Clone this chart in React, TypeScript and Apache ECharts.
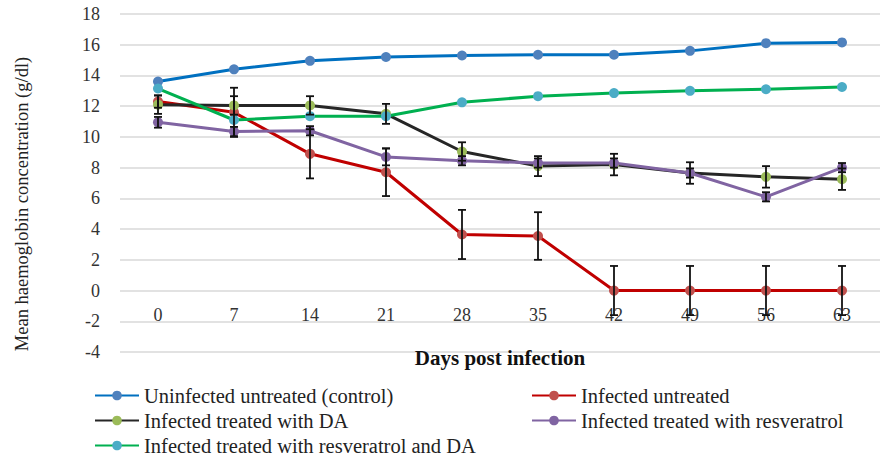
import React, { useEffect, useRef } from "react";
import * as echarts from "echarts";

const days = ["0", "7", "14", "21", "28", "35", "42", "49", "56", "63"];
const yTicks = { min: -4, max: 18, interval: 2 };

const control = [13.6, 14.4, 14.95, 15.2, 15.3, 15.35, 15.35, 15.6, 16.1, 16.15];
const infected = [12.3, 11.6, 8.9, 7.7, 3.65, 3.55, 0, 0, 0, 0];
const treatedDA = [12.1, 12.05, 12.05, 11.5, 9.05, 8.1, 8.2, 7.65, 7.4, 7.25];
const treatedResv = [10.95, 10.35, 10.4, 8.7, 8.45, 8.3, 8.3, 7.65, 6.1, 8.0];
const treatedBoth = [13.15, 11.1, 11.35, 11.35, 12.25, 12.65, 12.85, 13.0, 13.1, 13.25];

const errInfected = [0.4, 1.6, 1.6, 1.55, 1.6, 1.55, 1.6, 1.6, 1.6, 1.6];
const errDA = [0.6, 0.6, 0.6, 0.65, 0.6, 0.65, 0.7, 0.7, 0.7, 0.7];
const errResv = [0.35, 0.3, 0.3, 0.55, 0.3, 0.3, 0.3, 0.3, 0.3, 0.3];

const names = [
  "Uninfected untreated (control)",
  "Infected untreated",
  "Infected treated with DA",
  "Infected treated with resveratrol",
  "Infected treated with resveratrol and DA",
];
const yName = "Mean haemoglobin concentration (g/dl)";
const xName = "Days post infection";

const FONT = "Liberation Serif";

function errSeries(vals: number[], errs: number[]) {
  return {
    type: "custom",
    silent: true,
    z: 3,
    data: vals.map((v, i) => [i, v - errs[i], v + errs[i]]),
    encode: { x: 0, y: [1, 2] },
    renderItem: (_p: any, api: any) => {
      const x = api.value(0);
      const lo = api.coord([x, api.value(1)]);
      const hi = api.coord([x, api.value(2)]);
      const hw = 4;
      const st = { stroke: "#111", lineWidth: 1.8 };
      return {
        type: "group",
        children: [
          { type: "line", shape: { x1: hi[0], y1: hi[1], x2: lo[0], y2: lo[1] }, style: st },
          { type: "line", shape: { x1: hi[0] - hw, y1: hi[1], x2: hi[0] + hw, y2: hi[1] }, style: st },
          { type: "line", shape: { x1: lo[0] - hw, y1: lo[1], x2: lo[0] + hw, y2: lo[1] }, style: st },
        ],
      };
    },
  };
}

function lineSeries(name: string, data: number[], lineColor: string, markColor: string, z: number) {
  return {
    name,
    type: "line",
    data,
    z,
    symbol: "circle",
    symbolSize: 10,
    lineStyle: { color: lineColor, width: 3 },
    itemStyle: { color: markColor, borderWidth: 0 },
  };
}

export default function App() {
  const ref = useRef<HTMLDivElement>(null);
  useEffect(() => {
    if (!ref.current) return;
    const chart = echarts.init(ref.current, null, { renderer: "svg" });
    const legendText = { fontFamily: FONT, fontSize: 20.5, color: "#222" };
    const legendItem = (name: string, left: number, top: number) => ({
      left,
      top,
      padding: 0,
      itemWidth: 44,
      itemHeight: 12,
      textStyle: legendText,
      data: [name],
    });
    chart.setOption({
      animation: false,
      textStyle: { fontFamily: FONT },
      grid: { left: 120, right: 8, top: 14, bottom: 104 },
      legend: [
        legendItem(names[0], 94, 385),
        legendItem(names[2], 94, 410),
        legendItem(names[4], 94, 435),
        legendItem(names[1], 531, 385),
        legendItem(names[3], 531, 410),
      ],
      graphic: [
        {
          type: "text",
          x: 22,
          y: 204,
          rotation: Math.PI / 2,
          style: {
            text: yName,
            fontFamily: FONT,
            fontSize: 18.5,
            fill: "#222",
            align: "center",
            verticalAlign: "middle",
          },
        },
      ],
      xAxis: {
        type: "category",
        data: days,
        boundaryGap: true,
        offset: -61.45,
        axisLine: { show: false, onZero: false },
        axisTick: { show: false },
        axisLabel: { fontFamily: FONT, fontSize: 18, color: "#333", margin: 15 },
        name: xName,
        nameLocation: "middle",
        nameGap: 57,
        nameTextStyle: { fontFamily: FONT, fontSize: 21, fontWeight: "bold", color: "#111" },
      },
      yAxis: {
        type: "value",
        min: yTicks.min,
        max: yTicks.max,
        interval: yTicks.interval,
        axisLine: { show: false },
        axisTick: { show: false },
        splitLine: { lineStyle: { color: "#d9d9d9", width: 1.5 } },
        axisLabel: { fontFamily: FONT, fontSize: 18, color: "#333", margin: 20 },
      },
      series: [
        lineSeries(names[0], control, "#0070C0", "#4F81BD", 2),
        lineSeries(names[1], infected, "#C00000", "#C0504D", 2),
        lineSeries(names[2], treatedDA, "#262626", "#9BBB59", 2),
        lineSeries(names[3], treatedResv, "#8064A2", "#8064A2", 2),
        lineSeries(names[4], treatedBoth, "#00B050", "#4BACC6", 2),
        errSeries(infected, errInfected),
        errSeries(treatedDA, errDA),
        errSeries(treatedResv, errResv),
      ],
    });
    return () => chart.dispose();
  }, []);
  return (
    <div
      ref={ref}
      style={{ position: "fixed", left: 0, top: 0, width: 888, height: 456, background: "#fff" }}
    />
  );
}
